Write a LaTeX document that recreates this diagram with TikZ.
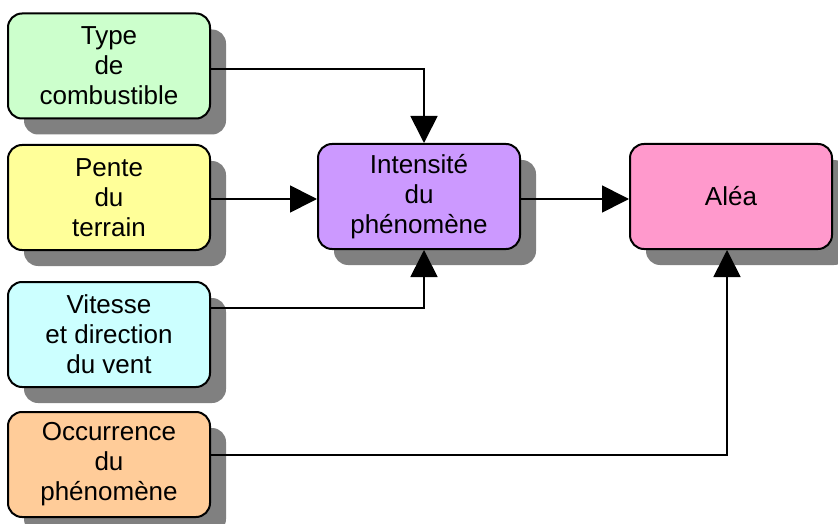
\documentclass[tikz,border=0pt]{standalone}
\usepackage{fontspec}
\setmainfont{Liberation Sans}
\usetikzlibrary{arrows.meta,shadows}
\definecolor{cgreen}{HTML}{CCFFCC}
\definecolor{cyellow}{HTML}{FFFF99}
\definecolor{ccyan}{HTML}{CCFFFF}
\definecolor{corange}{HTML}{FFCC99}
\definecolor{cpurple}{HTML}{CC99FF}
\definecolor{cpink}{HTML}{FF99CC}
\definecolor{cshadow}{HTML}{808080}
\tikzset{
  box/.style={draw=black, line width=2pt, rounded corners=14pt,
    minimum width=202pt, minimum height=105pt, align=center,
    font=\fontsize{26}{30}\selectfont,
    drop shadow={shadow xshift=16pt, shadow yshift=-16pt, fill=cshadow, opacity=1}},
  link/.style={line width=1.7pt, -{Triangle[length=27pt,width=27pt]}},
}
\begin{document}
\begin{tikzpicture}[x=1pt,y=-1pt]
  \useasboundingbox (0,0) rectangle (838,524);
  % input factors
  \node[box, fill=cgreen]  (type)  at (109,66)    {Type\\de\\combustible};
  \node[box, fill=cyellow] (pente) at (109,197.5) {Pente\\du\\terrain};
  \node[box, fill=ccyan]   (vent)  at (109,334.5) {Vitesse\\et direction\\du vent};
  \node[box, fill=corange] (occ)   at (109,464.5) {Occurrence\\du\\phénomène};
  % results
  \node[box, fill=cpurple] (int)   at (419,196.5) {Intensité\\du\\phénomène};
  \node[box, fill=cpink]   (alea)  at (731,196.5) {Aléa};
  % elbow points and the level of the straight links
  \coordinate (c1) at (424,69);
  \coordinate (c2) at (0,199);
  \coordinate (c3) at (424,308);
  \coordinate (c4) at (727,455);
  % connectors
  \draw[link] (type.east |- c1) -- (c1) -- (c1 |- int.north);
  \draw[link] (pente.east |- c2) -- (int.west |- c2);
  \draw[link] (vent.east |- c3) -- (c3) -- (c3 |- int.south);
  \draw[link] (int.east |- c2) -- (alea.west |- c2);
  \draw[link] (occ.east |- c4) -- (c4) -- (c4 |- alea.south);
\end{tikzpicture}
\end{document}
